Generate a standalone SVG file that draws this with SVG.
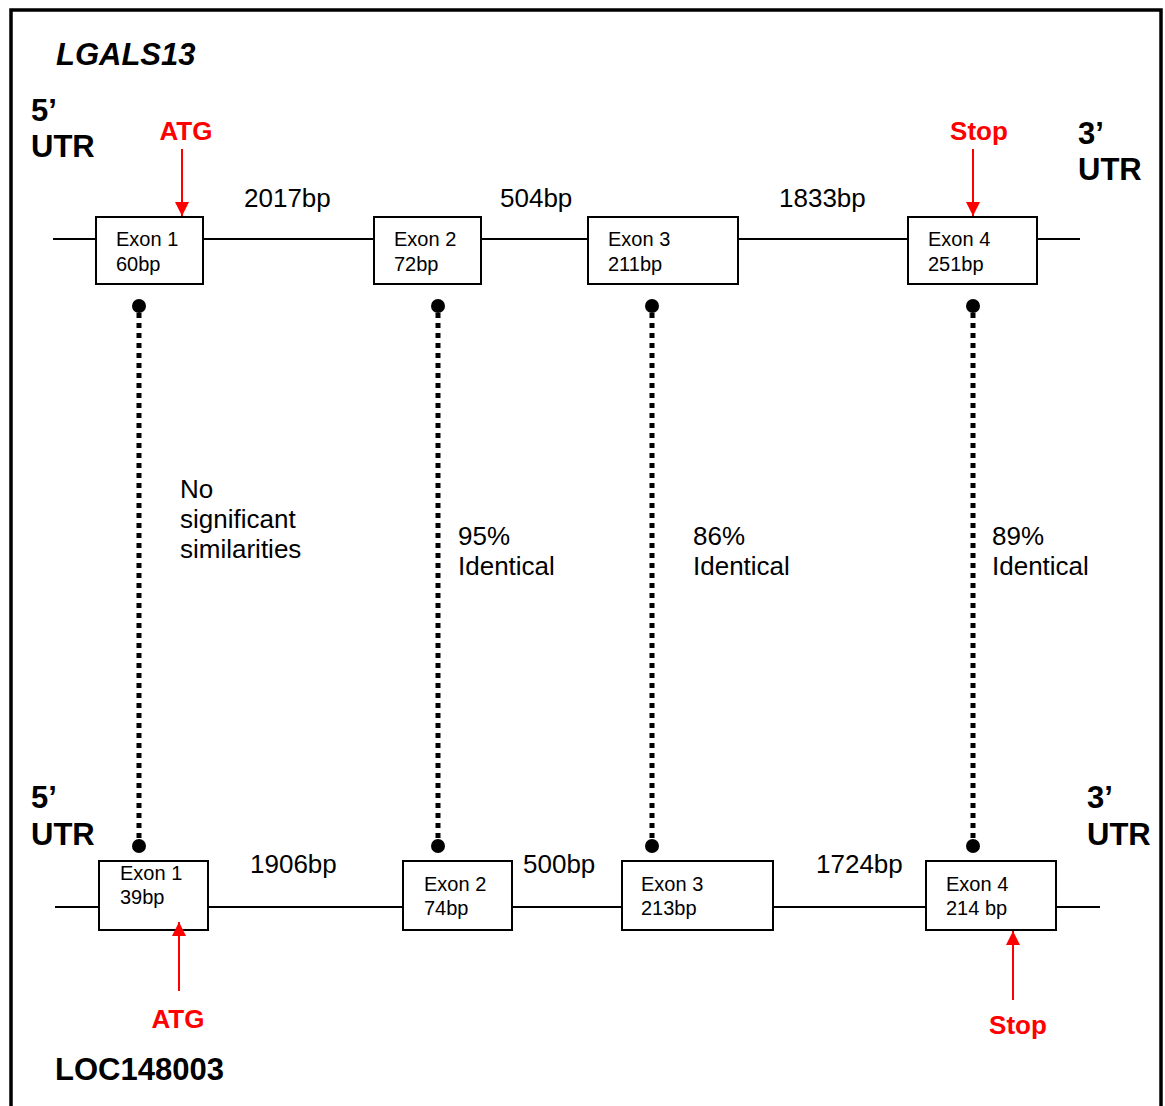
<svg xmlns="http://www.w3.org/2000/svg" width="1165" height="1106" viewBox="0 0 1165 1106">
<style>
text{font-family:"Liberation Sans",Arial,sans-serif;fill:#000}
.ex{font-size:20px}
.gap{font-size:26px}
.big{font-size:31px;font-weight:bold}
.red{font-size:26px;font-weight:bold;fill:#ff0000}
.box{fill:#fff;stroke:#000;stroke-width:2}
.ln{stroke:#000;stroke-width:2;fill:none}
.dot{stroke:#000;stroke-width:5;stroke-dasharray:5 5;fill:none}
.arr{stroke:#ff0000;stroke-width:2;fill:none;marker-end:url(#ah)}
</style>
<defs>
<marker id="ah" viewBox="0 0 10 10" refX="10" refY="5" markerWidth="7" markerHeight="7.5" orient="auto" markerUnits="strokeWidth">
<path d="M0,0 L10,5 L0,10 z" fill="#ff0000"/>
</marker>
</defs>
<rect x="0" y="0" width="1165" height="1106" fill="#fff"/>
<rect x="11" y="10" width="1150" height="1120" fill="none" stroke="#000" stroke-width="3.5"/>

<g id="labels">
<text x="56" y="65" class="big" font-style="italic">LGALS13</text>
<text x="31" y="121" class="big">5’</text>
<text x="31" y="157" class="big">UTR</text>
<text x="1078" y="144" class="big">3’</text>
<text x="1078" y="180" class="big">UTR</text>
<text x="31" y="808" class="big">5’</text>
<text x="31" y="845" class="big">UTR</text>
<text x="1087" y="808" class="big">3’</text>
<text x="1087" y="845" class="big">UTR</text>
<text x="55" y="1080" class="big">LOC148003</text>
<text x="186" y="140" class="red" text-anchor="middle">ATG</text>
<text x="979" y="140" class="red" text-anchor="middle">Stop</text>
<text x="178" y="1028" class="red" text-anchor="middle">ATG</text>
<text x="1018" y="1034" class="red" text-anchor="middle">Stop</text>
<text x="244" y="207" class="gap">2017bp</text>
<text x="500" y="207" class="gap">504bp</text>
<text x="779" y="207" class="gap">1833bp</text>
<text x="250" y="873" class="gap">1906bp</text>
<text x="523" y="873" class="gap">500bp</text>
<text x="816" y="873" class="gap">1724bp</text>
<text class="gap"><tspan x="180" y="498">No</tspan><tspan x="180" y="528">significant</tspan><tspan x="180" y="558">similarities</tspan></text>
<text class="gap"><tspan x="458" y="545">95%</tspan><tspan x="458" y="575">Identical</tspan></text>
<text class="gap"><tspan x="693" y="545">86%</tspan><tspan x="693" y="575">Identical</tspan></text>
<text class="gap"><tspan x="992" y="545">89%</tspan><tspan x="992" y="575">Identical</tspan></text>
</g>

<g id="connectors">
<line class="ln" x1="53" y1="239" x2="1080" y2="239"/>
<line class="ln" x1="55" y1="907" x2="1100" y2="907"/>
<line class="dot" x1="139" y1="313" x2="139" y2="842"/>
<line class="dot" x1="438" y1="313" x2="438" y2="842"/>
<line class="dot" x1="652" y1="313" x2="652" y2="842"/>
<line class="dot" x1="973" y1="313" x2="973" y2="842"/>
<g fill="#000">
<circle cx="139" cy="306" r="7"/><circle cx="438" cy="306" r="7"/><circle cx="652" cy="306" r="7"/><circle cx="973" cy="306" r="7"/>
<circle cx="139" cy="846" r="7"/><circle cx="438" cy="846" r="7"/><circle cx="652" cy="846" r="7"/><circle cx="973" cy="846" r="7"/>
</g>
</g>

<g id="top-exon1"><rect class="box" x="96" y="217" width="107" height="67"/><text class="ex" x="116" y="246">Exon 1</text><text class="ex" x="116" y="271">60bp</text></g>
<g id="top-exon2"><rect class="box" x="374" y="217" width="107" height="67"/><text class="ex" x="394" y="246">Exon 2</text><text class="ex" x="394" y="271">72bp</text></g>
<g id="top-exon3"><rect class="box" x="588" y="217" width="150" height="67"/><text class="ex" x="608" y="246">Exon 3</text><text class="ex" x="608" y="271">211bp</text></g>
<g id="top-exon4"><rect class="box" x="908" y="217" width="129" height="67"/><text class="ex" x="928" y="246">Exon 4</text><text class="ex" x="928" y="271">251bp</text></g>

<g id="bot-exon1"><rect class="box" x="99" y="861" width="109" height="69"/><text class="ex" x="120" y="880">Exon 1</text><text class="ex" x="120" y="904">39bp</text></g>
<g id="bot-exon2"><rect class="box" x="403" y="861" width="109" height="69"/><text class="ex" x="424" y="891">Exon 2</text><text class="ex" x="424" y="915">74bp</text></g>
<g id="bot-exon3"><rect class="box" x="622" y="861" width="151" height="69"/><text class="ex" x="641" y="891">Exon 3</text><text class="ex" x="641" y="915">213bp</text></g>
<g id="bot-exon4"><rect class="box" x="926" y="861" width="130" height="69"/><text class="ex" x="946" y="891">Exon 4</text><text class="ex" x="946" y="915">214 bp</text></g>

<g id="arrows">
<line class="arr" x1="182" y1="149" x2="182" y2="216"/>
<line class="arr" x1="973" y1="149" x2="973" y2="216"/>
<line class="arr" x1="179" y1="991" x2="179" y2="922"/>
<line class="arr" x1="1013" y1="1000" x2="1013" y2="931"/>
</g>
</svg>
